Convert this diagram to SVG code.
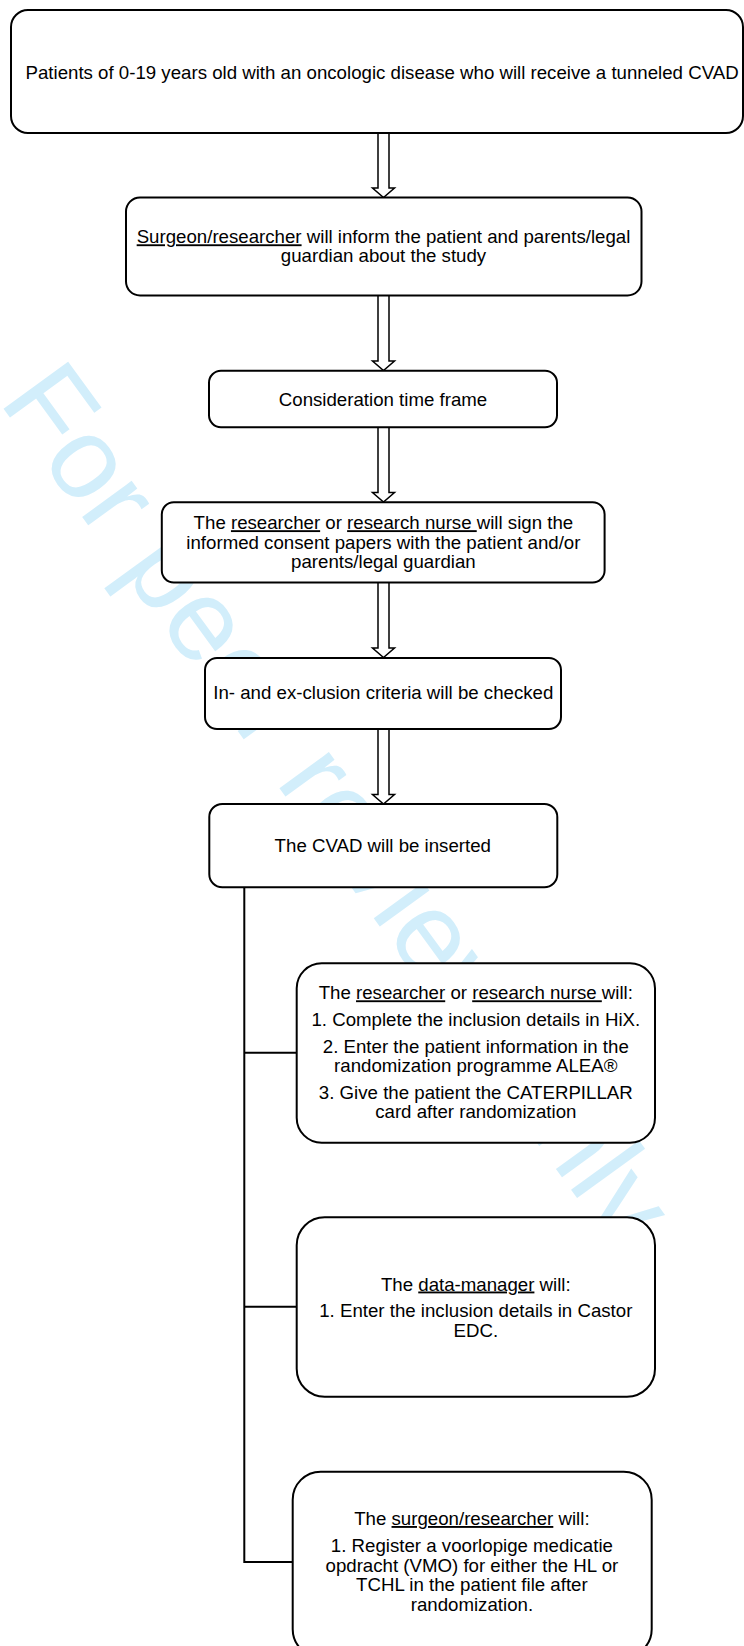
<svg xmlns="http://www.w3.org/2000/svg" width="744" height="1646" viewBox="0 0 744 1646">
<style>
.box{fill:#fff;stroke:#000;stroke-width:2}
.arrow{fill:#fff;stroke:#000;stroke-width:1.5;stroke-linejoin:miter}
.conn{fill:none;stroke:#000;stroke-width:2}
text{font-family:"Liberation Sans",Arial,sans-serif;font-size:18.67px;fill:#000}
.c{text-anchor:middle}
.u{text-decoration:underline}
.wm{font-size:116px;fill:#d2eefb}
</style>
<rect width="744" height="1646" fill="#fff"/>
<g id="watermark">
<text class="wm" transform="translate(-2,401) rotate(54)">For peer review only</text>
</g>
<g id="connectors">
<path class="arrow" d="M378,133 V188 H372.5 L383.5,197.5 L394.5,188 H389 V133"/>
<path class="arrow" d="M378,295.5 V361 H372.5 L383.5,370.5 L394.5,361 H389 V295.5"/>
<path class="arrow" d="M378,427.3 V492.5 H372.5 L383.5,502 L394.5,492.5 H389 V427.3"/>
<path class="arrow" d="M378,582.5 V648 H372.5 L383.5,657.5 L394.5,648 H389 V582.5"/>
<path class="arrow" d="M378,729 V794.5 H372.5 L383.5,804 L394.5,794.5 H389 V729"/>
<path class="conn" d="M244.3,887.3 V1562 H292.7"/>
<path class="conn" d="M244.3,1052.7 H296.7"/>
<path class="conn" d="M244.3,1306.7 H296.7"/>
</g>
<g id="n1">
<rect class="box" x="11" y="10" width="732" height="123" rx="17"/>
<text x="25.5" y="78.5">Patients of 0-19 years old with an oncologic disease who will receive a tunneled CVAD</text>
</g>
<g id="n2">
<rect class="box" x="126" y="197.5" width="515.5" height="98" rx="14"/>
<text class="c" x="383.5" y="243.3"><tspan class="u">Surgeon/researcher</tspan> will inform the patient and parents/legal</text>
<text class="c" x="383.5" y="262.4">guardian about the study</text>
</g>
<g id="n3">
<rect class="box" x="209" y="370.7" width="348" height="56.6" rx="12"/>
<text class="c" x="383" y="405.5">Consideration time frame</text>
</g>
<g id="n4">
<rect class="box" x="161.8" y="502.3" width="442.8" height="80.2" rx="12"/>
<text class="c" x="383.4" y="529.2" xml:space="preserve">The <tspan class="u">researcher</tspan> or <tspan class="u">research nurse </tspan>will sign the</text>
<text class="c" x="383.4" y="548.8">informed consent papers with the patient and/or</text>
<text class="c" x="383.4" y="568.4">parents/legal guardian</text>
</g>
<g id="n5">
<rect class="box" x="205" y="658" width="356" height="71" rx="12"/>
<text class="c" x="383.3" y="699.2">In- and ex-clusion criteria will be checked</text>
</g>
<g id="n6">
<rect class="box" x="209.3" y="804" width="348" height="83.3" rx="13"/>
<text class="c" x="382.8" y="852.3">The CVAD will be inserted</text>
</g>
<g id="n7">
<rect class="box" x="296.7" y="963.3" width="358.3" height="179.4" rx="25"/>
<text class="c" x="475.8" y="999.3" xml:space="preserve">The <tspan class="u">researcher</tspan> or <tspan class="u">research nurse </tspan>will:</text>
<text class="c" x="475.8" y="1026.3">1. Complete the inclusion details in HiX.</text>
<text class="c" x="475.8" y="1053.2">2. Enter the patient information in the</text>
<text class="c" x="475.8" y="1072.2">randomization programme ALEA®</text>
<text class="c" x="475.8" y="1099.2">3. Give the patient the CATERPILLAR</text>
<text class="c" x="475.8" y="1118">card after randomization</text>
</g>
<g id="n8">
<rect class="box" x="296.7" y="1217.3" width="358.3" height="179.4" rx="28"/>
<text class="c" x="475.8" y="1290.5">The <tspan class="u">data-manager</tspan> will:</text>
<text class="c" x="475.8" y="1317.2">1. Enter the inclusion details in Castor</text>
<text class="c" x="475.8" y="1336.5">EDC.</text>
</g>
<g id="n9">
<rect class="box" x="292.7" y="1471.7" width="359" height="185.5" rx="28"/>
<text class="c" x="471.9" y="1525">The <tspan class="u">surgeon/researcher</tspan> will:</text>
<text class="c" x="471.9" y="1552.2">1. Register a voorlopige medicatie</text>
<text class="c" x="471.9" y="1571.5">opdracht (VMO) for either the HL or</text>
<text class="c" x="471.9" y="1591">TCHL in the patient file after</text>
<text class="c" x="471.9" y="1610.5">randomization.</text>
</g>
</svg>
